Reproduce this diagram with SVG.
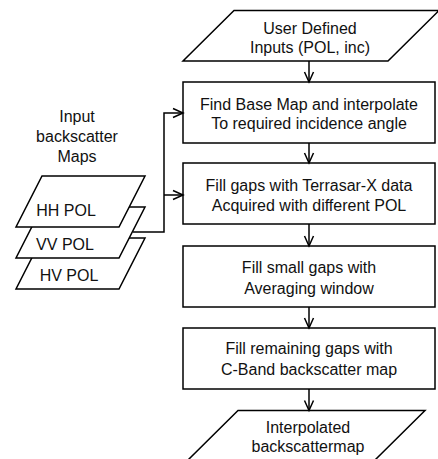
<svg xmlns="http://www.w3.org/2000/svg" width="438" height="459" viewBox="0 0 438 459">
  <style>
    .shape { fill: #ffffff; stroke: #000000; stroke-width: 1.5; }
    .link { fill: none; stroke: #000000; stroke-width: 1.5; }
    .label { font-family: "Liberation Sans", Arial, sans-serif; font-size: 16px; fill: #111111; text-anchor: middle; }
  </style>
  <defs>
    <marker id="arrow" markerUnits="userSpaceOnUse" markerWidth="14" markerHeight="14" viewBox="-12 -7 14 14" refX="0" refY="0" orient="auto">
      <path d="M-10,-4.5 L0,0 L-10,4.5" fill="none" stroke="#000000" stroke-width="1.5"/>
    </marker>
  </defs>
  <rect width="438" height="459" fill="#ffffff"/>

  <!-- input maps stack (back to front) -->
  <g id="hv-pol">
    <polygon class="shape" points="42,238 145,238 119,289 16,289"/>
    <text class="label" x="69" y="281">HV POL</text>
  </g>
  <g id="vv-pol">
    <polygon class="shape" points="42,207 145,207 119,258 16,258"/>
    <text class="label" x="65" y="250">VV POL</text>
  </g>
  <g id="hh-pol">
    <polygon class="shape" points="42,176 145,176 119,227 16,227"/>
    <text class="label" x="66" y="216">HH POL</text>
  </g>
  <g id="input-label">
    <text class="label" x="77" y="122">Input</text>
    <text class="label" x="77" y="142">backscatter</text>
    <text class="label" x="77" y="162">Maps</text>
  </g>

  <!-- main flow -->
  <g id="user-inputs">
    <polygon class="shape" points="234,10.5 439,10.5 388,61 183,61"/>
    <text class="label" x="310" y="34">User Defined</text>
    <text class="label" x="310" y="53">Inputs (POL, inc)</text>
  </g>
  <g id="base-map">
    <rect class="shape" x="183" y="82" width="252" height="61"/>
    <text class="label" x="309" y="110">Find Base Map and interpolate</text>
    <text class="label" x="309" y="129">To required incidence angle</text>
  </g>
  <g id="fill-terrasar">
    <rect class="shape" x="183" y="163" width="252" height="61"/>
    <text class="label" x="309" y="191">Fill gaps with Terrasar-X data</text>
    <text class="label" x="309" y="211">Acquired with different POL</text>
  </g>
  <g id="fill-small">
    <rect class="shape" x="183" y="246" width="252" height="61"/>
    <text class="label" x="309" y="273">Fill small gaps with</text>
    <text class="label" x="309" y="294">Averaging window</text>
  </g>
  <g id="fill-cband">
    <rect class="shape" x="183" y="328" width="252" height="61"/>
    <text class="label" x="309" y="354">Fill remaining gaps with</text>
    <text class="label" x="309" y="375">C-Band backscatter map</text>
  </g>
  <g id="output-map">
    <polygon class="shape" points="238,410.5 425,410.5 374,461 187,461"/>
    <text class="label" x="308" y="433">Interpolated</text>
    <text class="label" x="308" y="452">backscattermap</text>
  </g>

  <g id="connectors">
    <line class="link" x1="309" y1="61" x2="309" y2="82" marker-end="url(#arrow)"/>
    <line class="link" x1="309" y1="143" x2="309" y2="163" marker-end="url(#arrow)"/>
    <line class="link" x1="309" y1="224" x2="309" y2="246" marker-end="url(#arrow)"/>
    <line class="link" x1="309" y1="307" x2="309" y2="328" marker-end="url(#arrow)"/>
    <line class="link" x1="309" y1="389" x2="309" y2="410.5" marker-end="url(#arrow)"/>
    <polyline class="link" points="133,232 164,232 164,113 183,113" marker-end="url(#arrow)"/>
    <line class="link" x1="164" y1="195" x2="183" y2="195" marker-end="url(#arrow)"/>
  </g>
</svg>
